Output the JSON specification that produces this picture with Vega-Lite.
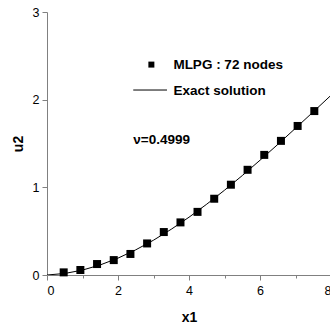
{
  "$schema": "https://vega.github.io/schema/vega-lite/v6.json",
  "autosize": "none",
  "width": 284,
  "height": 263,
  "padding": {"left": 47, "top": 12, "right": 0, "bottom": 57},
  "background": "white",
  "config": {"view": {"stroke": null}},
  "datasets": {
    "exact": [
      {"x1": 0, "u2": 0}, {"x1": 0.5, "u2": 0.0174}, {"x1": 1, "u2": 0.0562}, {"x1": 1.5, "u2": 0.115},
      {"x1": 2, "u2": 0.1924}, {"x1": 2.5, "u2": 0.287}, {"x1": 3, "u2": 0.397}, {"x1": 3.5, "u2": 0.522},
      {"x1": 4, "u2": 0.659}, {"x1": 4.5, "u2": 0.808}, {"x1": 5, "u2": 0.967}, {"x1": 5.5, "u2": 1.134},
      {"x1": 6, "u2": 1.309}, {"x1": 6.5, "u2": 1.489}, {"x1": 7, "u2": 1.674}, {"x1": 7.5, "u2": 1.861},
      {"x1": 8, "u2": 2.05}
    ],
    "mlpg": [
      {"x1": 0.47, "u2": 0.03}, {"x1": 0.94, "u2": 0.057}, {"x1": 1.41, "u2": 0.125}, {"x1": 1.88, "u2": 0.17},
      {"x1": 2.35, "u2": 0.24}, {"x1": 2.82, "u2": 0.36}, {"x1": 3.29, "u2": 0.49}, {"x1": 3.76, "u2": 0.6},
      {"x1": 4.24, "u2": 0.72}, {"x1": 4.71, "u2": 0.87}, {"x1": 5.18, "u2": 1.03}, {"x1": 5.65, "u2": 1.2},
      {"x1": 6.12, "u2": 1.37}, {"x1": 6.59, "u2": 1.53}, {"x1": 7.06, "u2": 1.7}, {"x1": 7.53, "u2": 1.87}
    ],
    "legendLine": [{"x1": 2.43, "u2": 2.11}, {"x1": 3.38, "u2": 2.11}],
    "legendSym": [{"x1": 2.94, "u2": 2.40}],
    "labels": [
      {"x1": 3.56, "u2": 2.40, "t": "MLPG : 72 nodes"},
      {"x1": 3.56, "u2": 2.10, "t": "Exact solution"},
      {"x1": 2.43, "u2": 1.54, "t": "ν=0.4999"}
    ]
  },
  "encoding": {
    "x": {
      "field": "x1", "type": "quantitative",
      "scale": {"domain": [0, 8], "nice": false, "zero": false},
      "axis": {
        "title": "x1", "values": [0, 1, 2, 3, 4, 5, 6, 7, 8], "grid": false, "format": "d",
        "labelExpr": "datum.value % 2 === 0 ? datum.label : ''",
        "tickSize": {"condition": {"test": "datum.value % 2 !== 0", "value": 3}, "value": 5},
        "domainColor": "#808080", "tickColor": "#808080",
        "labelFont": "Liberation Sans", "labelFontSize": 12.5, "labelColor": "black", "labelPadding": 4,
        "titleFont": "Liberation Sans", "titleFontSize": 14, "titleFontWeight": "bold", "titleColor": "black", "titlePadding": 14
      }
    },
    "y": {
      "field": "u2", "type": "quantitative",
      "scale": {"domain": [0, 3], "nice": false, "zero": false},
      "axis": {
        "title": "u2", "values": [0, 0.5, 1, 1.5, 2, 2.5, 3], "grid": false, "format": "d",
        "labelExpr": "datum.value % 1 === 0 ? datum.label : ''",
        "tickSize": {"condition": {"test": "datum.value % 1 !== 0", "value": 3}, "value": 5},
        "domainColor": "#808080", "tickColor": "#808080",
        "labelFont": "Liberation Sans", "labelFontSize": 12.5, "labelColor": "black", "labelPadding": 3,
        "titleFont": "Liberation Sans", "titleFontSize": 14, "titleFontWeight": "bold", "titleColor": "black", "titlePadding": 7
      }
    }
  },
  "layer": [
    {"data": {"name": "exact"}, "mark": {"type": "line", "color": "black", "strokeWidth": 1, "clip": true}},
    {"data": {"name": "mlpg"}, "mark": {"type": "point", "shape": "square", "filled": true, "color": "black", "size": 64, "opacity": 1}},
    {"data": {"name": "legendLine"}, "mark": {"type": "line", "color": "black", "strokeWidth": 1}},
    {"data": {"name": "legendSym"}, "mark": {"type": "point", "shape": "square", "filled": true, "color": "black", "size": 36, "opacity": 1}},
    {"data": {"name": "labels"}, "mark": {"type": "text", "align": "left", "baseline": "middle", "font": "Liberation Sans", "fontWeight": "bold", "fontSize": 13.5, "color": "black"},
     "encoding": {"text": {"field": "t", "type": "nominal"}}}
  ]
}
